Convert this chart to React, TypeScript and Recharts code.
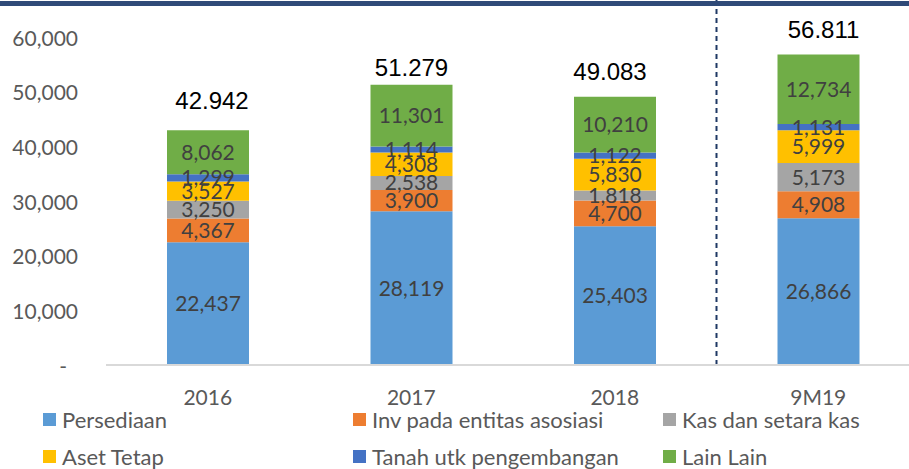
import React from 'react';
import { BarChart, Bar, XAxis, YAxis, LabelList, Legend, ReferenceArea } from 'recharts';

const CATEGORIES = ['2016', '2017', '2018', '9M19'];
const PERSEDIAAN = [22437, 28119, 25403, 26866];
const INV_ASOSIASI = [4367, 3900, 4700, 4908];
const KAS = [3250, 2538, 1818, 5173];
const ASET_TETAP = [3527, 4308, 5830, 5999];
const TANAH = [1299, 1114, 1122, 1131];
const LAIN_LAIN = [8062, 11301, 10210, 12734];
const TOTALS = [42942, 51279, 49083, 56811];
const Y_TICKS = [0, 10000, 20000, 30000, 40000, 50000, 60000];

const SERIES = [
  { key: 'persediaan', name: 'Persediaan', values: PERSEDIAAN, color: '#5B9BD5' },
  { key: 'inv', name: 'Inv pada entitas asosiasi', values: INV_ASOSIASI, color: '#ED7D31' },
  { key: 'kas', name: 'Kas dan setara kas', values: KAS, color: '#A5A5A5' },
  { key: 'aset', name: 'Aset Tetap', values: ASET_TETAP, color: '#FFC000' },
  { key: 'tanah', name: 'Tanah utk pengembangan', values: TANAH, color: '#4472C4' },
  { key: 'lain', name: 'Lain Lain', values: LAIN_LAIN, color: '#70AD47' },
];

// styling: manual lift / shift of the total labels above each bar
const TOTAL_LIFT = [30, 17, 25, 25];
const TOTAL_SHIFT = [4, 0, -5, 5];

const data = CATEGORIES.map((c, i) => {
  const row: any = { category: c, total: TOTALS[i] };
  SERIES.forEach((s) => {
    row[s.key] = s.values[i];
  });
  return row;
});

const FONT = 'Lato, "Open Sans", sans-serif';
const fmt = (v: number) => v.toLocaleString('en-US');
const fmtDot = (v: number) => v.toLocaleString('en-US').replace(/,/g, '.');

const YTick = (props: any) => {
  const { x, y, payload } = props;
  const v = payload.value;
  if (v === 0) {
    return (
      <text x={x - 11} y={y} textAnchor="end" dominantBaseline="central" fill="#595959" fontSize={21} fontFamily={FONT}>
        -
      </text>
    );
  }
  return (
    <text x={x} y={y} textAnchor="end" dominantBaseline="central" fill="#595959" fontSize={21} fontFamily={FONT}>
      {fmt(v)}
    </text>
  );
};

const XTick = (props: any) => {
  const { x, y, payload } = props;
  return (
    <text x={x} y={y + 31} textAnchor="middle" dominantBaseline="central" fill="#595959" fontSize={21} fontFamily={FONT}>
      {payload.value}
    </text>
  );
};

const TotalLabel = (props: any) => {
  const { x, y, width, value } = props;
  let idx = TOTALS.indexOf(Number(value));
  if (idx < 0) idx = 0;
  return (
    <text
      x={Number(x) + Number(width) / 2 + TOTAL_SHIFT[idx]}
      y={Number(y) - TOTAL_LIFT[idx]}
      textAnchor="middle"
      dominantBaseline="central"
      fill="#000000"
      fontSize={24}
      fontFamily='"Liberation Sans", Arial, sans-serif'
    >
      {fmtDot(Number(value))}
    </text>
  );
};

const LegendContent = () => (
  <div
    style={{
      position: 'relative',
      width: 909,
      height: 60,
      fontFamily: FONT,
      fontSize: 22,
      color: '#595959',
    }}
  >
    {SERIES.map((s, i) => {
      const col = i % 3;
      const row = Math.floor(i / 3);
      return (
        <div
          key={s.key}
          style={{
            position: 'absolute',
            left: 43 + col * 310,
            top: row * 37,
            height: 26,
            display: 'flex',
            alignItems: 'center',
            whiteSpace: 'nowrap',
          }}
        >
          <span style={{ display: 'inline-block', width: 13, height: 13, background: s.color, marginRight: 6 }} />
          <span>{s.name}</span>
        </div>
      );
    })}
  </div>
);

const DashedDivider = (props: any) => {
  const { x, y, height } = props;
  return (
    <line
      x1={x}
      x2={x}
      y1={0}
      y2={y + height}
      stroke="#1F3864"
      strokeWidth={2}
      strokeDasharray="5 4"
    />
  );
};

export default function App() {
  return (
    <div
      style={{
        position: 'absolute',
        left: 0,
        top: 0,
        width: 909,
        height: 469,
        overflow: 'hidden',
        background: '#ffffff',
      }}
    >
      <div
        style={{
          position: 'absolute',
          left: 0,
          top: 1,
          width: 909,
          height: 5,
          background: '#2F4A78',
          zIndex: 2,
        }}
      />
      <BarChart
        width={925}
        height={469}
        data={data}
        margin={{ top: 37, right: 5, left: 0, bottom: 64 }}
      >
        <XAxis
          dataKey="category"
          height={40}
          tickLine={false}
          tickSize={0}
          tickMargin={0}
          axisLine={{ stroke: '#D9D9D9', strokeWidth: 2 }}
          tick={<XTick />}
          interval={0}
        />
        <YAxis
          width={106}
          domain={[0, 60000]}
          ticks={Y_TICKS}
          interval={0}
          tickLine={false}
          axisLine={false}
          tickSize={0}
          tickMargin={28}
          tick={<YTick />}
        />
        <ReferenceArea x1="9M19" x2="9M19" shape={<DashedDivider />} ifOverflow="visible" />
        {SERIES.map((s, i) => (
          <Bar
            key={s.key}
            dataKey={s.key}
            name={s.name}
            stackId="a"
            fill={s.color}
            barSize={82}
            isAnimationActive={false}
          >
            <LabelList
              dataKey={s.key}
              position="center"
              fill="#404040"
              fontSize={21}
              fontFamily={FONT}
              formatter={(v: any) => fmt(Number(v))}
            />
            {i === SERIES.length - 1 ? (
              <LabelList dataKey="total" content={<TotalLabel />} />
            ) : null}
          </Bar>
        ))}
        <Legend
          layout="vertical"
          verticalAlign="middle"
          align="center"
          wrapperStyle={{ left: 0, top: 406, width: 909, height: 60 }}
          content={<LegendContent />}
        />
      </BarChart>
    </div>
  );
}
